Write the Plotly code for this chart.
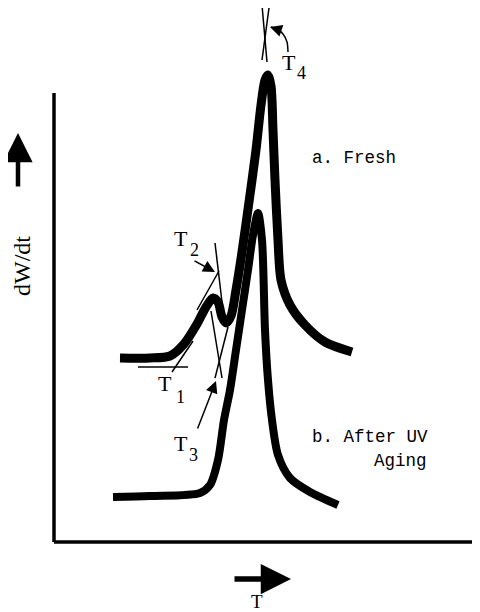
import plotly.graph_objects as go

# Curve a (fresh) (pixel-like coordinates)
fresh_x = [120, 150, 170, 184, 197, 206, 213, 218, 222, 226, 231, 236, 242, 249, 256, 261, 265, 268, 271, 273, 275, 278, 281, 290, 305, 325, 352]
fresh_y = [358, 358, 356, 344, 324, 307, 298, 302, 317, 323, 316, 290, 252, 202, 150, 105, 80, 75, 86, 130, 180, 240, 280, 305, 325, 342, 352]

# Curve b (after UV aging)
aged_x = [113, 150, 200, 210, 218, 224, 230, 236, 242, 248, 253, 258, 262, 265, 268, 272, 278, 290, 310, 338]
aged_y = [497, 496, 493, 485, 460, 420, 390, 350, 310, 270, 235, 213, 240, 330, 380, 420, 455, 478, 492, 505]

# Axes of the sketch
yaxis_x = [54, 54]
yaxis_y = [93, 542]
xaxis_x = [54, 480]
xaxis_y = [542, 542]

# Construction (tangent) lines
t1_base_x = [138, 188]
t1_base_y = [367, 367]
t1_slope_x = [172, 193]
t1_slope_y = [372, 341]
t2_slope_x = [197, 219]
t2_slope_y = [310, 271]
t2_vert_x = [215, 222]
t2_vert_y = [243, 302]
t3_a_x = [211, 222]
t3_a_y = [311, 378]
t3_b_x = [228, 215]
t3_b_y = [327, 378]
t4_a_x = [262, 267]
t4_a_y = [5, 62]
t4_b_x = [269, 262]
t4_b_y = [8, 60]

# curved T4 pointer
t4_ptr_x = [288, 287, 283, 277, 271]
t4_ptr_y = [52, 42, 34, 29, 27]

fig = go.Figure()

def line(xs, ys, w, shape="linear"):
    fig.add_trace(go.Scatter(x=xs, y=ys, mode="lines",
                             line=dict(color="black", width=w, shape=shape, smoothing=0.8),
                             hoverinfo="skip", showlegend=False))

line(yaxis_x, yaxis_y, 3.5)
line(xaxis_x, xaxis_y, 3.5)
line(fresh_x, fresh_y, 9, "spline")
line(aged_x, aged_y, 8, "spline")
for xs, ys in [(t1_base_x, t1_base_y), (t1_slope_x, t1_slope_y), (t2_slope_x, t2_slope_y),
               (t2_vert_x, t2_vert_y), (t3_a_x, t3_a_y), (t3_b_x, t3_b_y),
               (t4_a_x, t4_a_y), (t4_b_x, t4_b_y)]:
    line(xs, ys, 1.5)
line(t4_ptr_x, t4_ptr_y, 1.5, "spline")

mono = "Liberation Mono, Courier New, monospace"
serif = "Liberation Serif, Times New Roman, serif"

def arrow(x, y, ax, ay, w, size, head=2):
    fig.add_annotation(x=x, y=y, ax=ax, ay=ay, xref="x", yref="y", axref="x", ayref="y",
                       showarrow=True, arrowhead=head, arrowwidth=w, arrowsize=size,
                       arrowcolor="black", text="")

# Big axis direction arrows
arrow(18, 133, 18, 188, 4.5, 1.3)
arrow(291, 579, 233, 579, 5.5, 1.1)
# label arrows
arrow(215, 272, 193, 260, 1.5, 1.6)
arrow(216, 381, 197, 430, 1.5, 1.6)
arrow(270, 27, 276, 29, 1.5, 1.6)

def text(x, y, s, size, anchor="left", family=mono):
    fig.add_annotation(x=x, y=y, xref="x", yref="y", text=s, showarrow=False,
                       xanchor=anchor, yanchor="middle",
                       font=dict(family=family, size=size, color="black"))

text(310, 158, "a. Fresh", 17.5)
text(310, 437, "b. After UV", 17.5)
text(372, 461, "Aging", 17.5)
fig.add_annotation(x=22, y=266, xref="x", yref="y", text="dW/dt", showarrow=False,
                   textangle=-90, font=dict(family=serif, size=24, color="black"))
text(257, 601, "T", 19, "center", serif)
# T labels with subscripts
text(156, 383, "T", 22, family=serif)
text(174, 397, "1", 18, family=serif)
text(172, 238, "T", 22, family=serif)
text(188, 250, "2", 18, family=serif)
text(172, 443, "T", 22, family=serif)
text(187, 455, "3", 18, family=serif)
text(280, 62, "T", 22, family=serif)
text(295, 73, "4", 18, family=serif)

# The page body has an 8px margin; size and range the figure so that
# data coordinates equal page pixels.
fig.update_layout(width=472, height=604, margin=dict(l=0, r=0, t=0, b=0),
                  paper_bgcolor="white", plot_bgcolor="white",
                  xaxis=dict(range=[8, 480], visible=False, fixedrange=True),
                  yaxis=dict(range=[612, 8], visible=False, fixedrange=True))
fig.write_html("out.html")
